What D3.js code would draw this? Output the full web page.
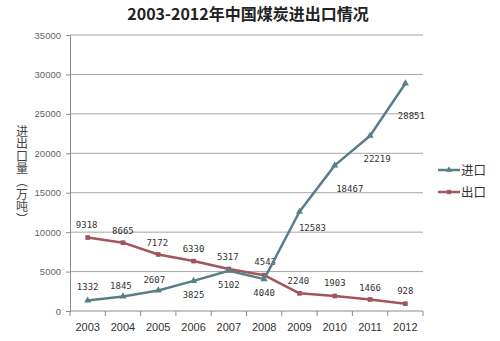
<!DOCTYPE html>
<html>
<head>
<meta charset="utf-8">
<script src="https://cdn.jsdelivr.net/npm/d3@7"></script>
<style>
  html, body { margin: 0; padding: 0; background: #fff; }
  svg { display: block; }
</style>
</head>
<body>
<svg id="chart" width="500" height="341"></svg>
<script>
// Coal trade of China, 2003-2012 (unit: 10,000 tonnes)
const years = ["2003","2004","2005","2006","2007","2008","2009","2010","2011","2012"];
const importValues = [1332, 1845, 2607, 3825, 5102, 4040, 12583, 18467, 22219, 28851];
const exportValues = [9318, 8665, 7172, 6330, 5317, 4543, 2240, 1903, 1466, 928];
const yTicks = [0, 5000, 10000, 15000, 20000, 25000, 30000, 35000];
const seriesNames = ["进口", "出口"];
const yTitle = "进出口量（万吨）";

// Label placement per point: dx, dy (label centre relative to the point)
const importLabelOffset = [[0,-13.5],[-2,-10],[-4,-10.5],[0,14],[0,14],[0,14],[13,16],[15,24],[7,23.5],[6,33]];
const exportLabelOffset = [[-1,-12.5],[0,-11.5],[-1,-11],[0,-12],[-1,-12],[1,-13],[-1,-12],[0,-13],[0,-11],[0,-12.5]];

const svg = d3.select("#chart");
const margin = { left: 70, right: 77, top: 35, bottom: 30 };
const W = 500, H = 341;

const x = d3.scaleBand().domain(years).range([margin.left, W - margin.right]);
const y = d3.scaleLinear().domain([0, 35000]).range([H - margin.bottom, margin.top]);

const importColor = "#587f89";
const exportColor = "#a2565a";
const gridColor = "#a6a6a6";

// Title
svg.append("text")
  .attr("x", 248).attr("y", 20)
  .attr("text-anchor", "middle")
  .attr("font-family", "'Noto Sans CJK SC', sans-serif")
  .attr("font-weight", "bold")
  .attr("font-size", 16)
  .attr("fill", "#222")
  .text("2003-2012年中国煤炭进出口情况");

// Horizontal gridlines
svg.append("g")
  .selectAll("line")
  .data(yTicks.filter(d => d > 0))
  .join("line")
  .attr("x1", margin.left).attr("x2", W - margin.right)
  .attr("y1", d => y(d)).attr("y2", d => y(d))
  .attr("stroke", gridColor).attr("stroke-width", 1);

// Y axis
const yAxis = d3.axisLeft(y).tickValues(yTicks).tickSize(4).tickPadding(5).tickFormat(d3.format("d"));
const gy = svg.append("g").attr("transform", `translate(${margin.left},0)`).call(yAxis);
gy.select(".domain").attr("stroke", "#8c8c8c");
gy.selectAll(".tick line").attr("stroke", "#8c8c8c");
gy.selectAll(".tick text")
  .attr("font-family", "'Liberation Sans', Arial, sans-serif")
  .attr("font-size", 9.5)
  .attr("fill", "#666");

// X axis with ticks at category boundaries
const gx = svg.append("g").attr("transform", `translate(0,${y(0)})`);
gx.append("line")
  .attr("x1", margin.left).attr("x2", W - margin.right)
  .attr("y1", 0).attr("y2", 0)
  .attr("stroke", "#8c8c8c");
const boundaries = years.map(d => x(d)).concat([x(years[years.length - 1]) + x.bandwidth()]);
gx.selectAll("line.tk")
  .data(boundaries)
  .join("line")
  .attr("class", "tk")
  .attr("x1", d => d).attr("x2", d => d)
  .attr("y1", 0).attr("y2", 5)
  .attr("stroke", "#8c8c8c");
gx.selectAll("text")
  .data(years)
  .join("text")
  .attr("x", d => x(d) + x.bandwidth() / 2)
  .attr("y", 20)
  .attr("text-anchor", "middle")
  .attr("font-family", "'Liberation Sans', Arial, sans-serif")
  .attr("font-size", 11)
  .attr("fill", "#333")
  .text(d => d);

// Y axis title, written top to bottom
svg.append("text")
  .attr("x", 22)
  .attr("y", 125)
  .attr("font-family", "'Noto Sans CJK SC', sans-serif")
  .attr("font-size", 12)
  .attr("fill", "#444")
  .style("writing-mode", "vertical-rl")
  .style("text-orientation", "upright")
  .style("letter-spacing", "0.6px")
  .text(yTitle);

const cx = d => x(d) + x.bandwidth() / 2;
const line = d3.line().x(d => cx(d.year)).y(d => y(d.value));

function drawSeries(values, color, marker, offsets, cls) {
  const data = years.map((yr, i) => ({ year: yr, value: values[i] }));
  const g = svg.append("g").attr("class", cls);
  g.append("path")
    .datum(data)
    .attr("d", line)
    .attr("fill", "none")
    .attr("stroke", color)
    .attr("stroke-width", 2.5)
    .attr("stroke-linejoin", "round");
  g.selectAll("path.m")
    .data(data)
    .join("path")
    .attr("class", "m")
    .attr("transform", d => `translate(${cx(d.year)},${y(d.value)})`)
    .attr("d", d3.symbol().type(marker).size(22))
    .attr("fill", color);
  g.selectAll("text")
    .data(data)
    .join("text")
    .attr("x", (d, i) => cx(d.year) + offsets[i][0])
    .attr("y", (d, i) => y(d.value) + offsets[i][1] + 3)
    .attr("text-anchor", "middle")
    .attr("font-family", "'DejaVu Sans Mono', monospace")
    .attr("font-size", 9)
    .attr("fill", "#333")
    .text(d => d.value);
}

drawSeries(exportValues, exportColor, d3.symbolSquare, exportLabelOffset, "export");
drawSeries(importValues, importColor, d3.symbolTriangle, importLabelOffset, "import");

// Legend
const legend = svg.append("g").attr("transform", "translate(438,170)");
[[seriesNames[0], importColor, d3.symbolTriangle], [seriesNames[1], exportColor, d3.symbolSquare]].forEach((s, i) => {
  const row = legend.append("g").attr("transform", `translate(0,${i * 22})`);
  row.append("line").attr("x1", 0).attr("x2", 22).attr("y1", 0).attr("y2", 0)
    .attr("stroke", s[1]).attr("stroke-width", 2.5);
  row.append("path").attr("transform", "translate(11,0)")
    .attr("d", d3.symbol().type(s[2]).size(18)).attr("fill", s[1]);
  row.append("text").attr("x", 23).attr("y", 4.5)
    .attr("font-family", "'Noto Sans CJK SC', sans-serif")
    .attr("font-size", 12.5).attr("fill", "#333")
    .text(s[0]);
});
</script>
</body>
</html>
